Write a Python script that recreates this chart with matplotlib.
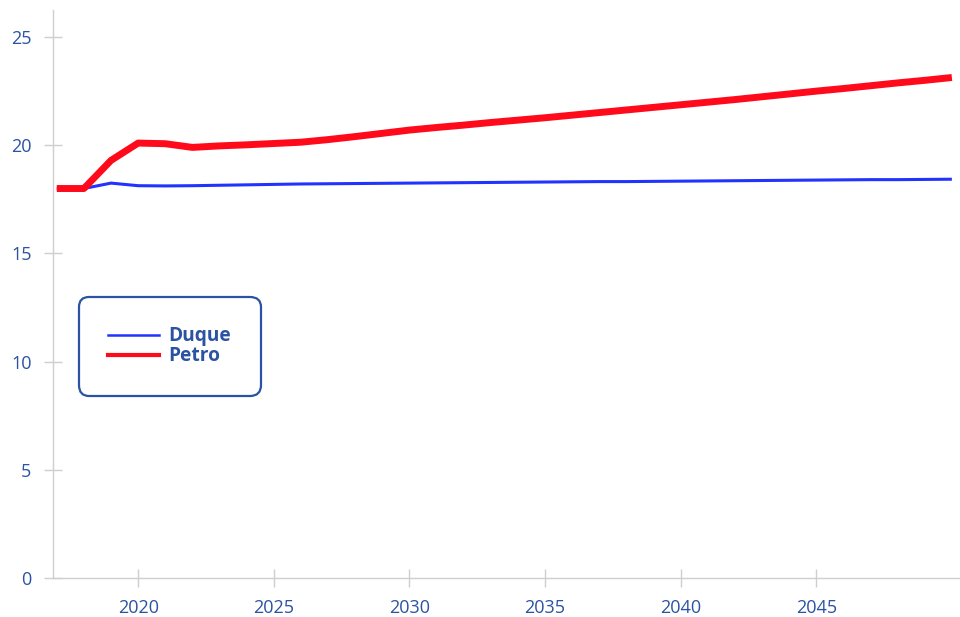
import matplotlib
matplotlib.use("Agg")
import matplotlib.pyplot as plt
from matplotlib.lines import Line2D

years = list(range(2017, 2051))
duque = [18.0, 18.0, 18.25, 18.13, 18.12, 18.13, 18.15, 18.17, 18.19, 18.21,
         18.22, 18.23, 18.24, 18.25, 18.26, 18.27, 18.28, 18.29, 18.30, 18.31,
         18.32, 18.32, 18.33, 18.34, 18.35, 18.36, 18.37, 18.38, 18.39, 18.40,
         18.41, 18.41, 18.42, 18.43]
petro = [18.0, 18.0, 19.3, 20.1, 20.07, 19.9, 19.97, 20.02, 20.08, 20.14,
         20.26, 20.40, 20.55, 20.70, 20.82, 20.93, 21.05, 21.16, 21.27, 21.39,
         21.51, 21.63, 21.75, 21.87, 21.99, 22.11, 22.24, 22.37, 22.50, 22.62,
         22.75, 22.88, 23.00, 23.13]
x_ticks = [2020, 2025, 2030, 2035, 2040, 2045]
y_ticks = [0, 5, 10, 15, 20, 25]
labels = ["Duque", "Petro"]

label_color = "#2b52a3"
axis_color = "#cfcfcf"
blue = "#2233ff"
red = "#ff0a1a"
fam = ["Open Sans", "DejaVu Sans"]

fig = plt.figure(figsize=(9.6, 6.17), dpi=100)
ax = fig.add_axes([0.0549, 0.0632, 0.9451, 0.9206])

ax.plot(years, duque, color=blue, lw=2.2, solid_capstyle="butt")
ax.plot(years, petro, color=red, lw=5.0, solid_capstyle="butt", solid_joinstyle="round")

ax.set_xlim(2016.85, 2050.3)
ax.set_ylim(0, 26.25)
ax.set_xticks(x_ticks)
ax.set_yticks(y_ticks)

for s in ["top", "right"]:
    ax.spines[s].set_visible(False)
for s in ["left", "bottom"]:
    ax.spines[s].set_color(axis_color)
    ax.spines[s].set_linewidth(1.0)

ax.tick_params(axis="both", direction="inout", length=13.5, width=1.0,
               color=axis_color, labelcolor=label_color, labelsize=13, pad=8.5)
for lab in ax.get_xticklabels() + ax.get_yticklabels():
    lab.set_family(fam)

handles = [Line2D([], [], color=blue, lw=1.8), Line2D([], [], color=red, lw=3.0)]
leg = ax.legend(handles, labels, loc="upper left",
                bbox_to_anchor=(78.5 / 960, 1 - 296.5 / 617),
                bbox_transform=fig.transFigure,
                prop={"family": fam, "weight": "bold", "size": 13.8},
                labelcolor=label_color, handlelength=2.65, handletextpad=0.5,
                labelspacing=0.0, borderpad=1.55, borderaxespad=0,
                frameon=True, fancybox=True)
frame = leg.get_frame()
frame.set_edgecolor(label_color)
frame.set_linewidth(1.6)
frame.set_facecolor("white")
frame.set_alpha(1)
frame.set_boxstyle("round", pad=0, rounding_size=0.55)

fig.savefig("out.png", dpi=100, facecolor="white")
